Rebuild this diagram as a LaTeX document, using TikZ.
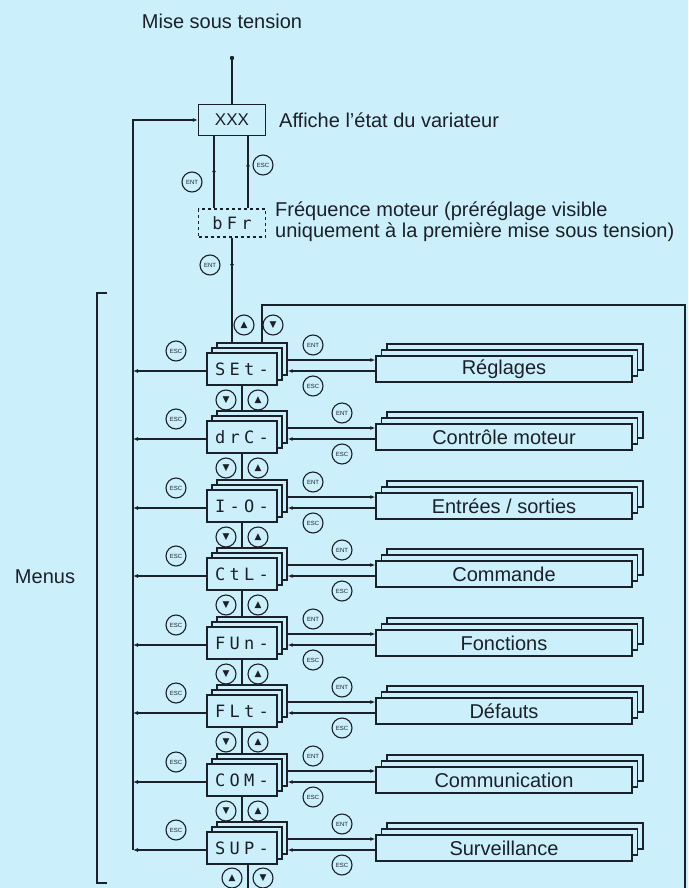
\documentclass[tikz,border=0pt]{standalone}
\usepackage{fontspec}
\setmainfont{Liberation Sans}
\newfontfamily\segfont{DejaVu Sans Mono}[LetterSpace=25]
\newfontfamily\symfont{DejaVu Sans}
\usetikzlibrary{arrows.meta,shadows,decorations.markings,calc}
\definecolor{BgClr}{RGB}{204,240,251}
\definecolor{InkClr}{RGB}{28,32,40}
\newcommand{\KeyUp}{{\symfont\fontsize{9}{9}\selectfont ▲}}
\newcommand{\KeyDn}{{\symfont\fontsize{9}{9}\selectfont ▼}}

\tikzset{
  txt/.style={font=\fontsize{20}{21}\selectfont, text=InkClr, inner sep=0pt},
  disp/.style={draw=InkClr, fill=BgClr, line width=1.4pt, minimum width=70pt,
    minimum height=32pt, inner sep=0pt, text=InkClr,
    font=\segfont\fontsize{17}{17}\selectfont,
    double copy shadow={shadow xshift=5pt, shadow yshift=5pt}},
  dispdash/.style={draw=InkClr, fill=BgClr, line width=1.4pt, dashed,
    minimum width=67pt, minimum height=28pt, inner sep=0pt, text=InkClr,
    font=\segfont\fontsize{17}{17}\selectfont},
  plainbox/.style={draw=InkClr, fill=BgClr, line width=1.4pt, minimum width=67pt,
    minimum height=31pt, inner sep=0pt, text=InkClr, font=\fontsize{17}{17}\selectfont},
  menubox/.style={draw=InkClr, fill=BgClr, line width=1.4pt, minimum width=256pt,
    minimum height=26pt, inner sep=0pt, text=InkClr, font=\fontsize{20}{20}\selectfont,
    double copy shadow={shadow xshift=5.5pt, shadow yshift=6pt}},
  key/.style={circle, draw=InkClr, fill=BgClr, line width=1.1pt, minimum size=20pt,
    inner sep=0pt, text=InkClr, font=\fontsize{6}{6}\selectfont},
  link/.style={draw=InkClr, line width=1.6pt},
  tip/.style={-{Latex[length=5pt,width=4pt]}},
  midtip/.style={postaction={decorate, decoration={markings,
    mark=at position #1 with {\arrow{Latex[length=5pt,width=4pt]}}}}}
}

\begin{document}
\begin{tikzpicture}[x=1pt,y=-1pt]
\fill[BgClr] (0,0) rectangle (688,888);
\useasboundingbox (0,0) rectangle (688,888);

% power on and drive state
\node[txt] (pwrtxt) at (222,21) {Mise sous tension};
\coordinate (pwr) at (232,58);
\node[plainbox] (xxx) at (232,120) {XXX};
\node[txt, anchor=west] (xxxtxt) at (279,120) {Affiche l'état du variateur};
\node[dispdash] (bfr) at (232,223) {bFr};
\node[txt, anchor=west, align=left] (bfrtxt) at (275,222)
  {Fréquence moteur (préréglage visible\\uniquement à la première mise sous tension)};

\fill[InkClr] (pwr) circle (2.2pt);
\draw[link] (pwr) -- (xxx.north);
\draw[link, midtip=0.55] ([xshift=-18pt]xxx.south) -- ([xshift=-18pt]xxx.south |- bfr.north);
\draw[link, midtip=0.65] ([xshift=16pt]bfr.north) -- ([xshift=16pt]bfr.north |- xxx.south);
\node[key] (ent0) at (192,182) {ENT};
\node[key] (esc0) at (263,165) {ESC};

% menus
\foreach \i/\kx/\seg/\lab in {1/313/SEt-/Réglages, 2/342/drC-/Contrôle moteur,
    3/313/I-O-/{Entrées / sorties}, 4/342/CtL-/Commande, 5/313/FUn-/Fonctions,
    6/342/FLt-/Défauts, 7/313/COM-/Communication, 8/342/SUP-/Surveillance}{
  \pgfmathsetmacro\cy{int(369+68.5*(\i-1))}
  \node[disp] (L\i) at (242,\cy) {\seg};
  \node[menubox] (R\i) at (504,\cy) {\lab};
  \node[key] (esc\i) at (176,\cy-18) {ESC};
  \node[key] (ent\i) at (\kx,\cy-24) {ENT};
  \node[key] (back\i) at (\kx,\cy+17) {ESC};
}

\coordinate (spine) at (133,120);
\draw[link, tip] ([yshift=-2pt]L8.west -| spine) -- (spine) -- (xxx.west);
\foreach \i in {1,...,8}{
  \draw[link, tip] ([yshift=-2pt]L\i.west) -- ([yshift=-2pt]L\i.west -| spine);
  \draw[link, tip] ([xshift=10pt,yshift=9pt]L\i.east) -- ([yshift=9pt]R\i.west);
  \draw[link, tip] ([yshift=-2pt]R\i.west) -- ([xshift=10pt,yshift=-2pt]L\i.east);
}

% up / down between menus
\foreach \i [evaluate=\i as \j using int(\i+1)] in {1,...,7}{
  \pgfmathsetmacro\cy{int(369+68.5*(\i-1))}
  \draw[link] (L\i.south) -- ([yshift=10pt]L\j.north);
  \node[key] (dn\i) at (226,\cy+31) {\KeyDn};
  \node[key] (up\i) at (258,\cy+31) {\KeyUp};
}

% entry from bFr and wrap-around frame
\coordinate (fr) at (262,305);
\coordinate (frr) at (685,888);
\draw[link, midtip=0.3] (bfr.south) -- ([yshift=10pt]L1.north -| bfr.south);
\node[key] (ent9) at (210,265) {ENT};
\draw[link] ([yshift=10pt]L1.north -| fr) -- (fr) -- (fr -| frr) -- (frr);
\node[key] (up0) at (244,325) {\KeyUp};
\node[key] (dn0) at (273,325) {\KeyDn};
\draw[link] ([xshift=6pt]L8.south) -- ([xshift=6pt]L8.south |- frr);
\node[key] (up8) at (232,878) {\KeyUp};
\node[key] (dn8) at (263,878) {\KeyDn};

% menus bracket
\draw[link] (107,293) -- (97,293) -- (97,883) -- (107,883);
\node[txt] (menus) at (45,577) {Menus};
\end{tikzpicture}
\end{document}
